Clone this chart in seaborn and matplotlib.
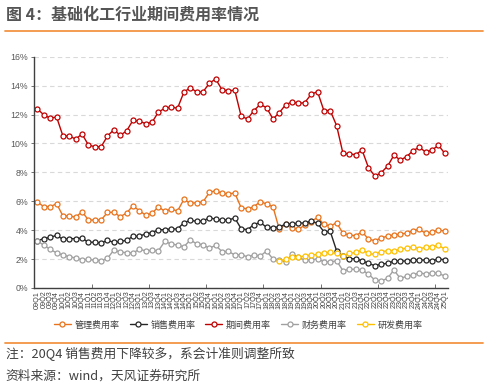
import numpy as np
import pandas as pd
import matplotlib
matplotlib.use('Agg')
import matplotlib.pyplot as plt
import seaborn as sns

# quarters 09Q1 .. 25Q1
quarters = [f"{y:02d}Q{q}" for y in range(9, 26) for q in range(1, 5)][:65]

admin = [5.94, 5.62, 5.62, 5.83, 4.98, 4.98, 4.89, 5.28, 4.70, 4.70,
         4.70, 5.23, 5.23, 4.93, 5.18, 5.69, 5.34, 5.04, 5.16, 5.62,
         5.30, 5.46, 5.32, 6.13, 5.85, 5.90, 5.94, 6.61, 6.73, 6.55,
         6.50, 6.57, 5.55, 5.46, 5.62, 5.97, 5.81, 5.62, 4.05, 4.40,
         4.12, 4.08, 4.33, 4.58, 4.89, 4.40, 4.28, 4.51, 3.78, 3.66,
         3.61, 3.89, 3.38, 3.27, 3.45, 3.59, 3.66, 3.73, 3.78, 3.96,
         4.05, 3.78, 3.85, 4.03, 3.92]
sales = [3.27, 3.41, 3.50, 3.64, 3.36, 3.41, 3.41, 3.45, 3.15, 3.17,
         3.11, 3.29, 3.15, 3.22, 3.29, 3.57, 3.57, 3.75, 3.82, 4.03,
         4.03, 4.08, 4.08, 4.51, 4.68, 4.61, 4.63, 4.86, 4.75, 4.70,
         4.70, 4.84, 4.10, 4.03, 4.38, 4.54, 4.19, 4.17, 4.24, 4.40,
         4.42, 4.49, 4.49, 4.63, 4.47, 3.89, 3.91, 2.57, 2.21, 2.02,
         2.02, 1.88, 1.70, 1.54, 1.65, 1.70, 1.86, 1.86, 1.86, 1.93,
         1.93, 1.93, 1.88, 2.00, 1.95]
period = [12.38, 11.97, 11.74, 11.83, 10.51, 10.51, 10.30, 10.65, 9.89, 9.77,
          9.77, 10.51, 10.95, 10.56, 10.86, 11.60, 11.53, 11.37, 11.46, 12.17,
          12.43, 12.52, 12.43, 13.54, 13.86, 13.56, 13.56, 14.16, 14.46, 13.70,
          13.65, 13.67, 11.88, 11.69, 12.27, 12.70, 12.47, 11.69, 12.13, 12.68,
          12.87, 12.77, 12.82, 13.40, 13.58, 12.27, 12.27, 11.23, 9.31, 9.27,
          9.22, 9.54, 8.33, 7.74, 7.97, 8.42, 9.18, 8.85, 9.08, 9.50,
          9.73, 9.40, 9.54, 9.87, 9.31]
finance = [3.25, 2.95, 2.67, 2.42, 2.28, 2.16, 2.07, 1.95, 1.98, 1.91,
           1.88, 2.05, 2.62, 2.48, 2.44, 2.42, 2.67, 2.57, 2.60, 2.57,
           3.22, 3.04, 2.97, 2.85, 3.31, 3.06, 2.99, 2.74, 2.95, 2.51,
           2.53, 2.28, 2.29, 2.16, 2.28, 2.21, 2.55, 2.00, 1.93, 1.81,
           2.35, 2.12, 1.93, 1.93, 2.02, 1.81, 1.79, 1.88, 1.19, 1.29,
           1.29, 1.24, 0.96, 0.55, 0.48, 0.66, 1.24, 0.66, 0.80, 0.89,
           1.05, 0.96, 1.05, 1.01, 0.82]
# R&D expense ratio reported from 18Q3
rd = [np.nan] * 38 + [1.86, 2.00, 2.12, 2.12, 2.21, 2.28, 2.32, 2.39, 2.46, 2.39,
                      2.23, 2.39, 2.46, 2.62, 2.39, 2.32, 2.51, 2.57, 2.57, 2.67,
                      2.74, 2.85, 2.71, 2.81, 2.85, 2.95, 2.69]

names = ['管理费用率', '销售费用率', '期间费用率', '财务费用率', '研发费用率']
colors = ['#E8731C', '#262626', '#C00000', '#A0A0A0', '#FFC000']

df = pd.DataFrame({'idx': np.arange(len(quarters)),
                   names[0]: admin, names[1]: sales, names[2]: period,
                   names[3]: finance, names[4]: rd})

sns.set_theme(style='white')
plt.rcParams['font.family'] = ['Noto Sans CJK SC', 'DejaVu Sans']

fig = plt.figure(figsize=(4.88, 3.87), dpi=100)
ax = fig.add_axes([0.0703, 0.256, 0.8477, 0.5975])

for name, c in zip(names, colors):
    sub = df[['idx', name]].dropna()
    sns.lineplot(data=sub, x='idx', y=name, ax=ax, color=c, label=name,
                 marker='o', markersize=3.6, markerfacecolor='white',
                 markeredgecolor=c, markeredgewidth=0.9, linewidth=1.0)

ax.set_xlim(-0.5, len(quarters) - 0.5)
ax.set_ylim(0, 16)
ax.set_yticks(range(0, 17, 2))
ax.set_yticklabels([f"{v}%" for v in range(0, 17, 2)], fontsize=6.3,
                   color='#595959', family='Liberation Sans')
ax.yaxis.grid(True, linestyle=(0, (4, 3)), color='#D9D9D9', linewidth=0.8)
ax.xaxis.grid(False)

# boundary ticks every 9 quarters, labels for every quarter
ax.set_xticks(np.arange(8.5, len(quarters), 9))
ax.set_xticklabels([])
ax.set_xticks(np.arange(len(quarters)), minor=True)
ax.set_xticklabels(quarters, minor=True, rotation=90, fontsize=5.2,
                   color='#404040', family='Liberation Sans')
ax.tick_params(axis='x', which='major', direction='in', length=3,
               width=0.6, color='#595959', bottom=True)
ax.tick_params(axis='x', which='minor', length=0, pad=2, bottom=True)
ax.tick_params(axis='y', which='major', direction='out', length=2.5,
               width=0.6, color='#595959', pad=2, left=True)
ax.set_xlabel('')
ax.set_ylabel('')

for s in ['top', 'right']:
    ax.spines[s].set_visible(False)
for s in ['left', 'bottom']:
    ax.spines[s].set_color('#404040')
    ax.spines[s].set_linewidth(1.0)

ax.legend(loc='center', bbox_to_anchor=(0.488, 0.16), bbox_transform=fig.transFigure,
          ncol=5, frameon=False, fontsize=6.5, handlelength=1.9,
          handletextpad=0.4, columnspacing=1.1, labelcolor='#404040')

fig.text(0.012, 0.961, '图 4：基础化工行业期间费用率情况', fontsize=11.5,
         fontweight='bold', color='#555555', va='center', ha='left')
fig.add_artist(plt.Line2D([0.01, 0.99], [0.92, 0.92], color='#F39443',
                          linewidth=1.3, transform=fig.transFigure))
fig.add_artist(plt.Line2D([0.01, 0.99], [0.1137, 0.1137], color='#F39443',
                          linewidth=1.3, transform=fig.transFigure))
fig.text(0.012, 0.085, '注：20Q4 销售费用下降较多，系会计准则调整所致', fontsize=9.2,
         color='#404040', va='center', ha='left')
fig.text(0.012, 0.028, '资料来源：wind，天风证券研究所', fontsize=9.2,
         color='#404040', va='center', ha='left')

fig.savefig('out.png', dpi=100)
